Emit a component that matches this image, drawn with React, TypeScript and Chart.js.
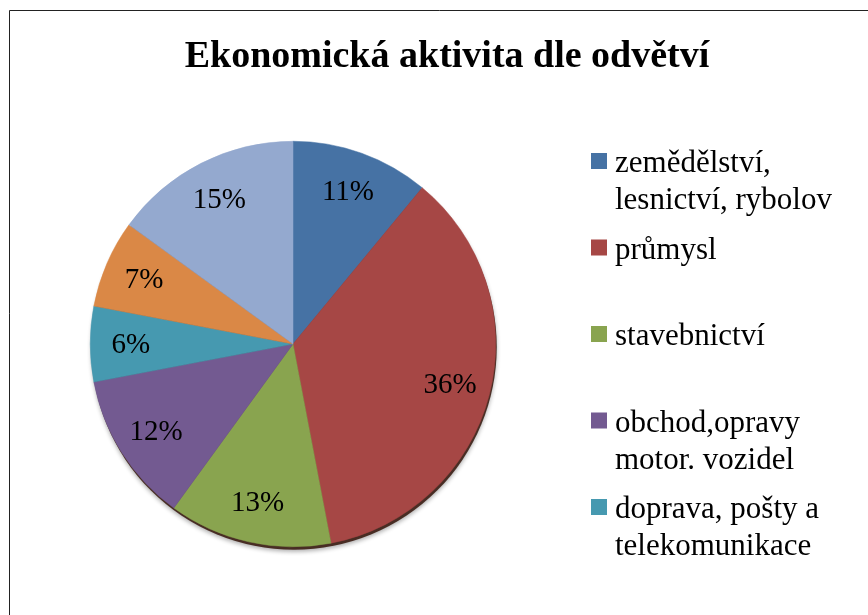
import React, { useEffect, useRef } from "react";
import { Chart, registerables } from "chart.js";

Chart.register(...registerables);

const TITLE = "Ekonomická aktivita dle odvětví";
const categories = [
  ["zemědělství,", "lesnictví, rybolov"],
  ["průmysl"],
  ["stavebnictví"],
  ["obchod,opravy", "motor. vozidel"],
  ["doprava, pošty a", "telekomunikace"],
  ["ubytování a", "stravování"],
  ["ostatní"],
];
const shares = [11, 36, 13, 12, 6, 7, 15];
const colors = ["#4672A4", "#A64745", "#89A44F", "#735A91", "#4699B0", "#DA8846", "#94A9CF"];

const SERIF = "'Liberation Serif', 'Times New Roman', serif";

const framePlugin = {
  id: "frame",
  beforeDraw(chart: any) {
    const ctx = chart.ctx;
    ctx.save();
    ctx.fillStyle = "#ffffff";
    ctx.fillRect(0, 0, chart.width, chart.height);
    ctx.strokeStyle = "#222222";
    ctx.lineWidth = 1;
    ctx.beginPath();
    ctx.moveTo(9.5, chart.height + 5);
    ctx.lineTo(9.5, 10.5);
    ctx.lineTo(chart.width + 5, 10.5);
    ctx.stroke();
    // title
    ctx.fillStyle = "#000";
    ctx.font = `bold 38px ${SERIF}`;
    ctx.textAlign = "center";
    ctx.textBaseline = "alphabetic";
    ctx.fillText(TITLE, 447, 67);
    ctx.restore();
  },
  beforeDatasetsDraw(chart: any) {
    const meta = chart.getDatasetMeta(0);
    const arc = meta.data[0];
    if (!arc) return;
    const { x, y, outerRadius } = arc.getProps(["x", "y", "outerRadius"], true);
    const ctx = chart.ctx;
    ctx.save();
    ctx.fillStyle = "rgba(60,30,20,0.9)";
    ctx.shadowColor = "rgba(0,0,0,0.35)";
    ctx.shadowBlur = 4;
    ctx.shadowOffsetY = 2;
    ctx.beginPath();
    ctx.arc(x + 1, y + 3, outerRadius, 0, Math.PI * 2);
    ctx.fill();
    ctx.restore();
  },
};

const labelsPlugin = {
  id: "pctLabels",
  afterDatasetsDraw(chart: any) {
    const ctx = chart.ctx;
    const meta = chart.getDatasetMeta(0);
    const data = chart.data.datasets[0].data as number[];
    const total = data.reduce((a, b) => a + b, 0);
    ctx.save();
    ctx.fillStyle = "#000";
    ctx.font = `29px ${SERIF}`;
    ctx.textAlign = "center";
    ctx.textBaseline = "middle";
    meta.data.forEach((arc: any, i: number) => {
      const { x, y, startAngle, endAngle, outerRadius } = arc.getProps(
        ["x", "y", "startAngle", "endAngle", "outerRadius"],
        true
      );
      const mid = (startAngle + endAngle) / 2;
      const r = outerRadius * 0.8;
      const pct = Math.round((data[i] / total) * 100) + "%";
      ctx.fillText(pct, x + Math.cos(mid) * r, y + Math.sin(mid) * r + 1);
    });
    ctx.restore();
  },
};

const legendPlugin = {
  id: "sideLegend",
  afterDraw(chart: any) {
    const ctx = chart.ctx;
    const labels = chart.data.labels as string[][];
    const bg = chart.data.datasets[0].backgroundColor as string[];
    const x0 = 591;
    const y0 = 161;
    const step = 86.5;
    const lineH = 37;
    const bottomLimit = 575;
    ctx.save();
    ctx.font = `31px ${SERIF}`;
    ctx.textBaseline = "middle";
    ctx.textAlign = "left";
    labels.forEach((lines, i) => {
      const y = y0 + i * step;
      if (y + (lines.length - 1) * lineH > bottomLimit) return;
      ctx.fillStyle = bg[i];
      ctx.fillRect(x0, y - 8, 16, 16);
      ctx.fillStyle = "#000";
      lines.forEach((t, k) => ctx.fillText(t, x0 + 24, y + 3 + k * lineH));
    });
    ctx.restore();
  },
};

export default function App() {
  const ref = useRef<HTMLCanvasElement>(null);
  useEffect(() => {
    if (!ref.current) return;
    const chart = new Chart(ref.current, {
      type: "pie",
      data: {
        labels: categories as any,
        datasets: [
          {
            data: shares,
            backgroundColor: colors,
            borderColor: colors,
            borderWidth: 0.5,
          },
        ],
      },
      options: {
        animation: false,
        responsive: false,
        layout: { padding: { left: 90, right: 372, top: 141, bottom: 68 } },
        plugins: {
          legend: { display: false },
          title: { display: false },
          tooltip: { enabled: false },
        },
      },
      plugins: [framePlugin, labelsPlugin, legendPlugin],
    });
    return () => chart.destroy();
  }, []);
  return (
    <div style={{ position: "fixed", left: 0, top: 0, width: 868, height: 615, overflow: "hidden", background: "#fff" }}>
      <canvas ref={ref} width={868} height={615} style={{ display: "block" }} />
    </div>
  );
}
